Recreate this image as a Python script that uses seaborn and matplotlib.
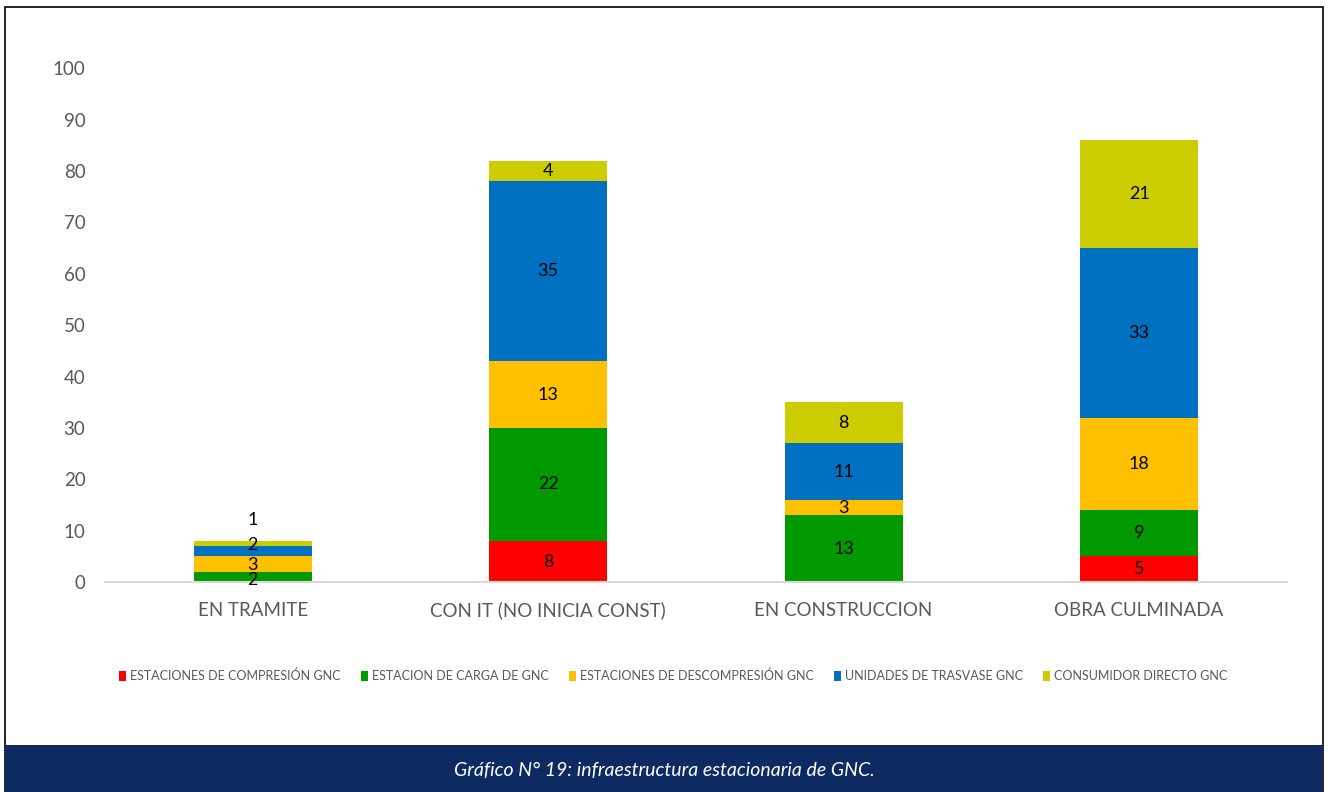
import matplotlib
matplotlib.use("Agg")
import matplotlib.pyplot as plt
from matplotlib.patches import Patch, Rectangle
import seaborn as sns
import numpy as np

categorias = ["EN TRAMITE", "CON IT (NO INICIA CONST)", "EN CONSTRUCCION", "OBRA CULMINADA"]
series = ["ESTACIONES DE COMPRESIÓN GNC", "ESTACION DE CARGA DE GNC",
          "ESTACIONES DE DESCOMPRESIÓN GNC", "UNIDADES DE TRASVASE GNC",
          "CONSUMIDOR DIRECTO GNC"]
compresion = [0, 8, 0, 5]
carga = [2, 22, 13, 9]
descompresion = [3, 13, 3, 18]
trasvase = [2, 35, 11, 33]
consumidor = [1, 4, 8, 21]
colores = ["#FF0000", "#009A00", "#FFC000", "#0070C0", "#CCCC00"]
y_ticks = [0, 10, 20, 30, 40, 50, 60, 70, 80, 90, 100]

# label positions for the short first column, where segments are too thin
ajuste_tramite = {1: 0.4, 2: 3.3, 3: 7.2, 4: 12}

sns.set_theme(style="white")
plt.rcParams["font.family"] = ["Lato", "DejaVu Sans"]

fig = plt.figure(figsize=(13.28, 7.92), dpi=100)
ax = fig.add_axes([0.079, 0.265, 0.89, 0.649])

valores = [compresion, carga, descompresion, trasvase, consumidor]
base = np.zeros(len(categorias))
for k, (nombre, vals, col) in enumerate(zip(series, valores, colores)):
    sns.barplot(x=categorias, y=vals, bottom=base, color=col, width=0.4,
                ax=ax, saturation=1, edgecolor="none", linewidth=0)
    for i, v in enumerate(vals):
        if v > 0:
            yc = base[i] + v / 2
            if i == 0 and k in ajuste_tramite:
                yc = ajuste_tramite[k]
            ax.text(i, yc, str(v), ha="center", va="center",
                    fontsize=13, color="black")
    base = base + np.array(vals)

ax.set_ylim(0, 100)
ax.set_xlim(-0.5, 3.5)
ax.set_yticks(y_ticks)
ax.set_yticklabels([str(t) for t in y_ticks])
for s in ["top", "right", "left"]:
    ax.spines[s].set_visible(False)
ax.spines["bottom"].set_color("#D9D9D9")
ax.spines["bottom"].set_linewidth(1.5)
ax.tick_params(axis="y", length=0, labelsize=13.5, labelcolor="#595959", pad=14)
ax.tick_params(axis="x", length=0, labelsize=13.5, labelcolor="#595959", pad=14)
ax.grid(False)

handles = [Patch(facecolor=c, edgecolor="none") for c in colores]
fig.legend(handles, series, loc="center", bbox_to_anchor=(0.507, 0.1465), ncol=5,
           frameon=False, fontsize=9.0, handlelength=0.55, handleheight=0.9,
           handletextpad=0.35, columnspacing=1.6, labelcolor="#595959")

# outer frame and caption band
fig.add_artist(Rectangle((5 / 1328, 0), 1318 / 1328, 1 - 7 / 792, transform=fig.transFigure,
                         facecolor="none", edgecolor="black", linewidth=1.2))
fig.add_artist(Rectangle((5 / 1328, 0), 1318 / 1328, 47 / 792, transform=fig.transFigure,
                         facecolor="#0D2B62", edgecolor="none"))
fig.text(0.5, 22 / 792, "Gráfico N° 19: infraestructura estacionaria de GNC.",
         ha="center", va="center", color="white", fontsize=14, style="italic")

fig.savefig("out.png", dpi=100, facecolor="white")
